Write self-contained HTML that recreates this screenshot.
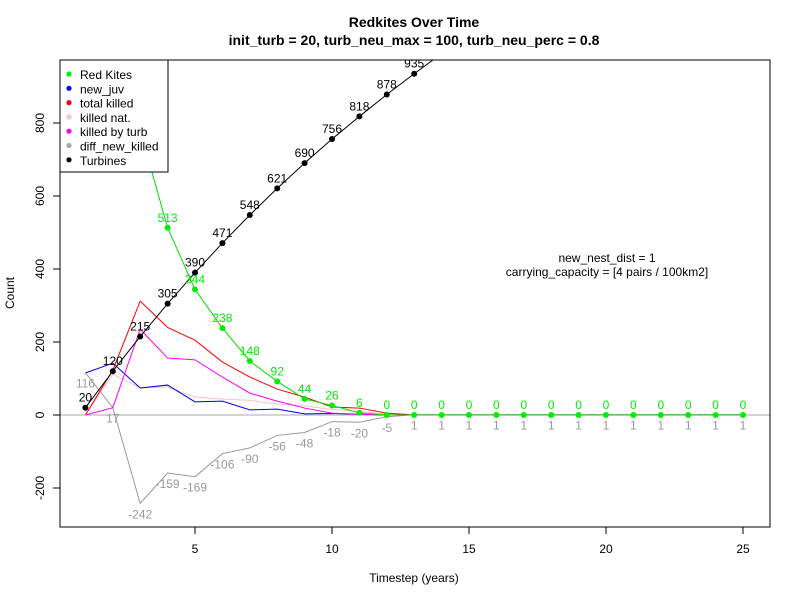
<!DOCTYPE html>
<html><head><meta charset="utf-8"><style>
body{margin:0;background:#fff;}
svg text{font-family:"Liberation Sans",Arial,sans-serif;}
</style></head><body>
<svg id="c" width="800" height="600" xmlns="http://www.w3.org/2000/svg">
<defs><clipPath id="pc"><rect x="60" y="60" width="710" height="467"/></clipPath></defs>
<text x="414" y="27" text-anchor="middle" font-size="14" font-weight="bold">Redkites Over Time</text>
<text x="414" y="45" text-anchor="middle" font-size="14" font-weight="bold">init_turb = 20, turb_neu_max = 100, turb_neu_perc = 0.8</text>
<g id="axes"></g>
<g id="marks" clip-path="url(#pc)"></g>
<g id="labels"></g>
<rect x="60" y="60" width="710" height="467" fill="none" stroke="#000"/>
<text x="607" y="262" text-anchor="middle" font-size="12">new_nest_dist = 1</text>
<text x="607" y="276" text-anchor="middle" font-size="12">carrying_capacity = [4 pairs / 100km2]</text>
<text x="414" y="582" text-anchor="middle" font-size="12">Timestep (years)</text>
<text transform="translate(14,293) rotate(-90)" text-anchor="middle" font-size="12">Count</text>
<g id="legend"></g>
</svg>
<script>
const steps=[1,2,3,4,5,6,7,8,9,10,11,12,13,14,15,16,17,18,19,20,21,22,23,24,25];
const redKites=[1200,1000,780,513,344,238,148,92,44,26,6,0,0,0,0,0,0,0,0,0,0,0,0,0,0];
const newJuv=[115,142,74,82,36,38,14,16,3,4,2,0,0,0,0,0,0,0,0,0,0,0,0,0,0];
const totalKilled=[0,123,312,240,205,145,104,71,49,22,19,5,0,0,0,0,0,0,0,0,0,0,0,0,0];
const killedNat=[0,112,74,77,49,44,40,30,25,15,10,3,0,0,0,0,0,0,0,0,0,0,0,0,0];
const killedTurb=[0,20,235,156,151,104,60,38,19,5,2,0,0,0,0,0,0,0,0,0,0,0,0,0,0];
const diffLabels=[116,17,-242,-159,-169,-106,-90,-56,-48,-18,-20,-5,1,1,1,1,1,1,1,1,1,1,1,1,1];
const diffNewKilled=[116,20,-242,-159,-169,-106,-90,-56,-48,-18,-20,-5,1,1,1,1,1,1,1,1,1,1,1,1,1];
const turbines=[20,120,215,305,390,471,548,621,690,756,818,878,935,990,1045,1100,1155,1210,1265,1320,1375,1430,1485,1540,1595];
const xTicks=[5,10,15,20,25];
const yTicks=[-200,0,200,400,600,800];
const NS="http://www.w3.org/2000/svg";
const X=v=>195+(v-5)*27.4;
const Y=v=>415-v*0.365;
function mk(t,p,a){const e=document.createElementNS(NS,t);for(const k in a)e.setAttribute(k,a[k]);p.appendChild(e);return e;}
const axes=document.getElementById('axes'),marks=document.getElementById('marks'),labels=document.getElementById('labels');
mk('line',axes,{x1:X(5),x2:X(25),y1:527,y2:527,stroke:'#000'});
xTicks.forEach(t=>{mk('line',axes,{x1:X(t),x2:X(t),y1:527,y2:534,stroke:'#000'});
 const tx=mk('text',axes,{x:X(t),y:553,'text-anchor':'middle','font-size':12});tx.textContent=t;
 
 });
mk('line',axes,{x1:60,x2:60,y1:Y(-200),y2:Y(800),stroke:'#000'});
yTicks.forEach(t=>{mk('line',axes,{x1:53,x2:60,y1:Y(t),y2:Y(t),stroke:'#000'});
 const tx=mk('text',axes,{transform:`translate(44,${Y(t)}) rotate(-90)`,'text-anchor':'middle','font-size':12});tx.textContent=t;
 
 });
const zl=mk('line',marks,{x1:60,x2:770,y1:Y(0),y2:Y(0),stroke:'#aaa'});


function line(arr,col,name,n){const pts=steps.slice(0,n||steps.length).map((s,i)=>X(s)+','+Y(arr[i])).join(' ');
 const p=mk('polyline',marks,{points:pts,fill:'none',stroke:col,'stroke-width':1});
 
 }
line(diffNewKilled,'#999','diff-new-killed-line');
line(killedNat,'#ffc0cb','killed-nat-line',13);
line(newJuv,'#0000ff','new-juv-line',13);
line(totalKilled,'#ff0000','total-killed-line',13);
line(killedTurb,'#ff00ff','killed-by-turb-line',13);
line(redKites,'#00dd00','red-kites-line');
line(turbines,'#000','turbines-line');
function pts(arr,col,name){steps.forEach((s,i)=>{const c=mk('circle',marks,{cx:X(s),cy:Y(arr[i]),r:3,fill:col});
 
 });}
pts(redKites,'#00ee00','red-kites-point');
pts(turbines,'#000','turbine-point');
const lc=document.createElementNS(NS,'g');lc.setAttribute('clip-path','url(#pc)');labels.appendChild(lc);
steps.forEach((s,i)=>{
 if(Y(turbines[i])>60){const t=mk('text',lc,{x:X(s),y:Y(turbines[i])-6,'text-anchor':'middle','font-size':12,fill:'#000'});t.textContent=turbines[i];
 
 }
 if(i>=3){const t=mk('text',lc,{x:X(s),y:Y(redKites[i])-6,'text-anchor':'middle','font-size':12,fill:'#00ee00'});t.textContent=redKites[i];
 
 }
 const g=mk('text',lc,{x:X(s),y:Y(diffNewKilled[i])+15,'text-anchor':'middle','font-size':12,fill:'#999'});g.textContent=diffLabels[i];
 
 
});
const lg=document.getElementById('legend');
mk('rect',lg,{x:60,y:60,width:108,height:112,fill:'#fff',stroke:'#000'});
const items=[['Red Kites','#00ee00'],['new_juv','#0000ff'],['total killed','#ff0000'],['killed nat.','#ffc0cb'],['killed by turb','#ff00ff'],['diff_new_killed','#aaa'],['Turbines','#000']];
items.forEach((it,i)=>{const y=75+i*14.3;
 const c=mk('circle',lg,{cx:69,cy:y-1,r:2.6,fill:it[1]});
 
 
 const t=mk('text',lg,{x:80,y:y+4,'font-size':12});t.textContent=it[0];
 
 });
</script>
</body></html>
